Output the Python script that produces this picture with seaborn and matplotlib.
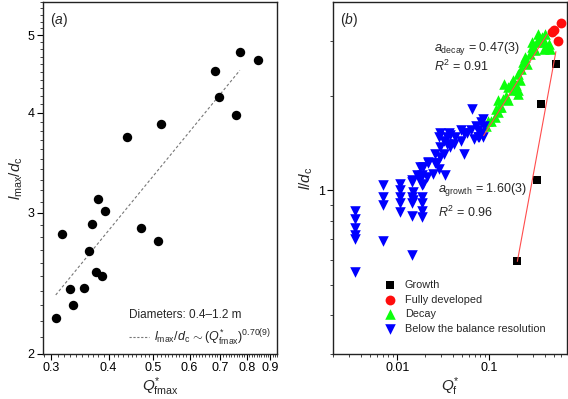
import numpy as np
import pandas as pd
import seaborn as sns
import matplotlib.pyplot as plt
from matplotlib.ticker import FixedLocator, FixedFormatter, NullFormatter
from matplotlib.lines import Line2D

# ---- panel (a): max flame length vs max heat release rate
q_fmax = [0.772, 0.845, 0.680, 0.695, 0.757, 0.521, 0.439, 0.379, 0.392, 0.369,
          0.316, 0.470, 0.513, 0.362, 0.376, 0.388, 0.354, 0.329, 0.334, 0.307]
l_max = [4.77, 4.65, 4.51, 4.18, 3.98, 3.87, 3.73, 3.12, 3.02, 2.91,
         2.82, 2.87, 2.77, 2.69, 2.53, 2.50, 2.42, 2.41, 2.30, 2.22]
fit_a_exp = 0.70
fit_a_x = [0.307, 0.772]
fit_a_y0 = 2.37

# ---- panel (b): flame length vs heat release, by fire stage
growth_q = [0.202, 0.328, 0.366, 0.535]
growth_l = [0.593, 1.076, 1.883, 2.527]

full_q = [0.480, 0.509, 0.608, 0.559]
full_l = [3.20, 3.25, 3.42, 3.00]

decay_q = [0.092, 0.098, 0.104, 0.114, 0.124, 0.135, 0.124, 0.141, 0.153, 0.160,
           0.174, 0.181, 0.197, 0.206, 0.181, 0.214, 0.206, 0.224, 0.234, 0.254,
           0.243, 0.276, 0.289, 0.314, 0.289, 0.328, 0.372, 0.405, 0.342, 0.389,
           0.423, 0.460, 0.441, 0.119, 0.129, 0.146, 0.160, 0.206, 0.342, 0.389]
decay_l = [1.61, 1.67, 1.67, 1.72, 1.78, 1.85, 1.94, 1.96, 2.01, 2.14,
           2.19, 2.09, 2.17, 2.04, 2.25, 2.25, 2.36, 2.45, 2.57, 2.54,
           2.67, 2.73, 2.87, 2.80, 2.98, 2.98, 3.09, 3.17, 3.17, 2.98,
           2.87, 2.84, 2.94, 1.82, 1.85, 2.19, 1.94, 2.09, 3.02, 2.84]

below_q = [0.0035, 0.0035, 0.0035, 0.0035, 0.0035, 0.0035,
           0.0070, 0.0070, 0.0070, 0.0070,
           0.0106, 0.0106, 0.0106, 0.0106, 0.0106,
           0.0143, 0.0143, 0.0143, 0.0143, 0.0143, 0.0149, 0.0149, 0.0143,
           0.0184, 0.0184, 0.0184, 0.0184, 0.0184, 0.0184, 0.0176, 0.0176,
           0.0162, 0.0192, 0.0209, 0.0247, 0.0269, 0.0218, 0.0293, 0.0258,
           0.0293, 0.0347, 0.0319, 0.0411, 0.0378, 0.0293, 0.0281, 0.0378,
           0.0530, 0.0487, 0.0487, 0.0530, 0.0577, 0.0628, 0.0683, 0.0745,
           0.0810, 0.0846, 0.0881, 0.0846, 0.0656, 0.0810, 0.0713, 0.0347,
           0.0319, 0.0333, 0.0281, 0.0258, 0.0192, 0.0218, 0.0429, 0.0362,
           0.0776, 0.0745]
below_l = [0.86, 0.81, 0.76, 0.72, 0.70, 0.55,
           1.04, 0.95, 0.90, 0.69,
           1.05, 1.00, 0.95, 0.91, 0.85,
           1.08, 0.95, 0.91, 0.83, 0.62, 0.99, 0.93, 1.06,
           1.12, 1.04, 0.95, 0.91, 0.86, 0.82, 1.19, 1.08,
           1.12, 1.05, 1.10, 1.13, 1.22, 1.23, 1.28, 1.31,
           1.38, 1.41, 1.31, 1.41, 1.50, 1.52, 1.48, 1.38,
           1.31, 1.44, 1.56, 1.52, 1.52, 1.56, 1.46, 1.48,
           1.52, 1.48, 1.61, 1.69, 1.82, 1.65, 1.61, 1.48,
           1.44, 1.12, 1.17, 1.22, 1.19, 1.22, 1.48, 1.52,
           1.48, 1.56]

growth_fit = dict(a=1.60, x=[0.202, 0.53], y0=0.593)
decay_fit = dict(a=0.47, x=[0.0868, 0.423], y0=1.496)

stage_names = ['Growth', 'Fully developed', 'Decay', 'Below the balance resolution']
stage_colors = ['black', '#ff0d0d', '#0dff0d', '#0000ff']
stage_markers = ['s', 'o', '^', 'v']
stage_sizes = [30, 50, 58, 58]

sns.set_theme(style='ticks')
plt.rcParams['font.family'] = ['Liberation Sans', 'DejaVu Sans']
plt.rcParams['mathtext.fontset'] = 'custom'
plt.rcParams['mathtext.rm'] = 'Liberation Sans'
plt.rcParams['mathtext.it'] = 'Liberation Sans:italic'
plt.rcParams['mathtext.bf'] = 'Liberation Sans:bold'

fig = plt.figure(figsize=(5.68, 3.99), dpi=100)
ax1 = fig.add_axes([43 / 568, 1 - 354 / 399, 234 / 568, 352 / 399])
ax2 = fig.add_axes([333 / 568, 1 - 354 / 399, 234 / 568, 352 / 399])

# panel (a)
df_a = pd.DataFrame({'q': q_fmax, 'l': l_max})
sns.scatterplot(data=df_a, x='q', y='l', ax=ax1, color='black', s=46,
                linewidth=0, zorder=3)
xf = np.geomspace(fit_a_x[0], fit_a_x[1], 50)
sns.lineplot(x=xf, y=fit_a_y0 * (xf / fit_a_x[0]) ** fit_a_exp, ax=ax1,
             color='#777777', lw=0.8, linestyle=(0, (2.5, 2)))
ax1.set_xscale('log')
ax1.set_yscale('log')
ax1.set_xlim(0.288, 0.93)
ax1.set_ylim(2, 5.5)

xa_ticks = [0.3, 0.4, 0.5, 0.6, 0.7, 0.8, 0.9]
ya_ticks = [2, 3, 4, 5]
ax1.xaxis.set_major_locator(FixedLocator(xa_ticks))
ax1.xaxis.set_major_formatter(FixedFormatter([str(t) for t in xa_ticks]))
ax1.xaxis.set_minor_locator(FixedLocator(np.arange(0.29, 0.93, 0.01)))
ax1.xaxis.set_minor_formatter(NullFormatter())
ax1.yaxis.set_major_locator(FixedLocator(ya_ticks))
ax1.yaxis.set_major_formatter(FixedFormatter([str(t) for t in ya_ticks]))
ax1.yaxis.set_minor_locator(FixedLocator(np.arange(2.1, 5.51, 0.1)))
ax1.yaxis.set_minor_formatter(NullFormatter())

ax1.set_xlabel(r'$Q^{*}_{\mathrm{fmax}}$', fontsize=11, labelpad=1)
ax1.set_ylabel(r'$l_{\mathrm{max}}/d_{\mathrm{c}}$', fontsize=11, labelpad=2)
ax1.text(0.03, 0.975, r'($a$)', transform=ax1.transAxes, fontsize=10, va='top')

h = [Line2D([], [], color='#777777', lw=0.8, linestyle=(0, (2, 1.5)))]
leg = ax1.legend(h, [r'$l_{\mathrm{max}}/d_{\mathrm{c}}\,\sim(Q^{*}_{\mathrm{fmax}})^{0.70(9)}$'],
                 title='Diameters: 0.4\u20131.2 m', loc='lower right',
                 bbox_to_anchor=(1.0, 0.0), frameon=False, fontsize=9,
                 title_fontsize=8.5, handlelength=1.6, handletextpad=0.4,
                 borderaxespad=0.1, alignment='left')

# panel (b)
groups = [(growth_q, growth_l), (full_q, full_l), (decay_q, decay_l), (below_q, below_l)]
for (qq, ll), name, c, m, s in zip(groups, stage_names, stage_colors, stage_markers, stage_sizes):
    sns.scatterplot(x=qq, y=ll, ax=ax2, color=c, marker=m, s=s, linewidth=0,
                    label=name, zorder=3)
for fit in (growth_fit, decay_fit):
    xg = np.geomspace(fit['x'][0], fit['x'][1], 50)
    sns.lineplot(x=xg, y=fit['y0'] * (xg / fit['x'][0]) ** fit['a'], ax=ax2,
                 color='#ff4d4d', lw=0.8, zorder=4)

ax2.set_xscale('log')
ax2.set_yscale('log')
ax2.set_xlim(0.002, 0.7)
ax2.set_ylim(0.3, 4)
ax2.xaxis.set_major_locator(FixedLocator([0.01, 0.1]))
ax2.xaxis.set_major_formatter(FixedFormatter(['0.01', '0.1']))
xminor = [k * 0.001 for k in range(2, 10)] + [k * 0.01 for k in range(2, 10)] + [k * 0.1 for k in range(2, 7)]
ax2.xaxis.set_minor_locator(FixedLocator(xminor))
ax2.xaxis.set_minor_formatter(NullFormatter())
ax2.yaxis.set_major_locator(FixedLocator([1]))
ax2.yaxis.set_major_formatter(FixedFormatter(['1']))
yminor = [k * 0.1 for k in range(3, 10)] + [2, 3]
ax2.yaxis.set_minor_locator(FixedLocator(yminor))
ax2.yaxis.set_minor_formatter(NullFormatter())

ax2.set_xlabel(r'$Q^{*}_{\mathrm{f}}$', fontsize=11, labelpad=1)
ax2.set_ylabel(r'$l/d_{\mathrm{c}}$', fontsize=11, labelpad=2)
ax2.text(0.03, 0.975, r'($b$)', transform=ax2.transAxes, fontsize=10, va='top')

ax2.text(0.43, 0.862, r'$a_{\mathrm{decay}}$ = 0.47(3)', transform=ax2.transAxes, fontsize=9)
ax2.text(0.43, 0.805, r'$R^{2}$ = 0.91', transform=ax2.transAxes, fontsize=9)
ax2.text(0.45, 0.46, r'$a_{\mathrm{growth}}$ = 1.60(3)', transform=ax2.transAxes, fontsize=9)
ax2.text(0.45, 0.39, r'$R^{2}$ = 0.96', transform=ax2.transAxes, fontsize=9)

ax2.legend(loc='lower left', bbox_to_anchor=(0.2, 0.045), frameon=False, fontsize=7.8,
           handlelength=1.0, handletextpad=0.9, labelspacing=0.42, borderaxespad=0)

for ax in (ax1, ax2):
    ax.tick_params(which='major', direction='out', length=4, width=0.8, labelsize=9,
                   colors='black', pad=2)
    ax.tick_params(which='minor', direction='out', length=2, width=0.6)
    for sp in ax.spines.values():
        sp.set_linewidth(1.0)
        sp.set_color('#222222')

fig.savefig('out.png', dpi=100)
